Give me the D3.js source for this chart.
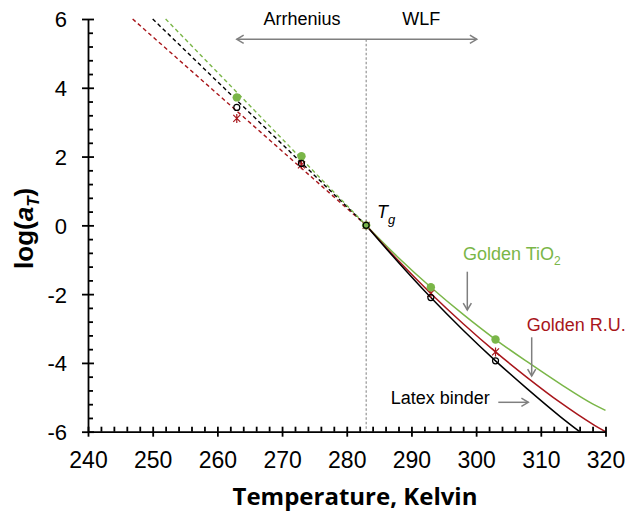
<!DOCTYPE html>
<html>
<head>
<meta charset="utf-8">
<script src="https://cdn.jsdelivr.net/npm/d3@7"></script>
<style>
  html, body { margin: 0; padding: 0; background: #fff; }
  svg { display: block; }
  text { font-family: "Liberation Sans", Arial, sans-serif; }
</style>
</head>
<body>
<svg id="chart" width="628" height="512"></svg>
<script>
// Shift factor log(aT) vs temperature, reference temperature Tg = 283 K
const tg = 283;

// Measured shift factors
const measuredT = [263, 273, 283, 293, 303];
const binderMeasured = [3.43, 1.80, 0, -2.10, -3.94];
const ruMeasured = [3.11, 1.76, 0, -1.98, -3.68];
const tio2Measured = [3.72, 2.01, 0, -1.80, -3.32];

// WLF fits above Tg
const binderWlfT = [283, 288, 293, 298, 303, 308, 313, 316];
const binderWlf = [0, -1.08, -2.10, -3.05, -3.94, -4.77, -5.56, -6.0];
const ruWlfT = [283, 288, 293, 298, 303, 308, 313, 318, 320];
const ruWlf = [0, -1.03, -1.98, -2.86, -3.68, -4.44, -5.15, -5.78, -6.0];
const tio2WlfT = [283, 288, 293, 298, 303, 308, 313, 318, 320];
const tio2Wlf = [0, -0.94, -1.80, -2.59, -3.32, -3.98, -4.61, -5.19, -5.38];

// Arrhenius fits below Tg (straight lines from Tg to the top of the plot)
const binderArrT = [250.0, 283];
const binderArr = [6, 0];
const ruArrT = [246.9, 283];
const ruArr = [6, 0];
const tio2ArrT = [252.0, 283];
const tio2Arr = [6, 0];

// Axis ticks
const xMajor = [240, 250, 260, 270, 280, 290, 300, 310, 320];
const xMinor = d3.range(242, 320, 2).filter(v => v % 10 !== 0);
const yMajor = [-6, -4, -2, 0, 2, 4, 6];
const yMinor = d3.range(-5.6, 6, 0.4).map(v => +v.toFixed(1)).filter(v => Math.abs(v % 2) > 1e-6);

const green = "#7ab648";
const red = "#a8161b";
const black = "#000000";
const grey = "#7f7f7f";

const svg = d3.select("#chart");
const x = d3.scaleLinear().domain([240, 320]).range([88, 605.5]);
const y = d3.scaleLinear().domain([-6, 6]).range([431.7, 19]);

const zip = (ts, vs) => ts.map((t, i) => [t, vs[i]]);
const line = d3.line().x(d => x(d[0])).y(d => y(d[1]));
const smooth = d3.line().x(d => x(d[0])).y(d => y(d[1])).curve(d3.curveMonotoneX);

// Vertical dashed line at Tg
svg.append("line")
  .attr("x1", x(tg)).attr("x2", x(tg))
  .attr("y1", y(5.41)).attr("y2", y(-6))
  .attr("stroke", grey).attr("stroke-width", 1)
  .attr("stroke-dasharray", "2.5,2");

// Arrhenius (dashed) lines
[[ruArrT, ruArr, red], [binderArrT, binderArr, black], [tio2ArrT, tio2Arr, green]].forEach(([ts, vs, c]) => {
  svg.append("path")
    .attr("d", line(zip(ts, vs)))
    .attr("fill", "none").attr("stroke", c).attr("stroke-width", 1.4)
    .attr("stroke-dasharray", "4,3");
});

// WLF (solid) curves
[[tio2WlfT, tio2Wlf, green], [ruWlfT, ruWlf, red], [binderWlfT, binderWlf, black]].forEach(([ts, vs, c]) => {
  svg.append("path")
    .attr("d", smooth(zip(ts, vs)))
    .attr("fill", "none").attr("stroke", c).attr("stroke-width", 1.5);
});

// Axes (hyphen-minus labels)
const fmt = d => String(d);
const gx = svg.append("g").attr("transform", `translate(0,${y(-6)})`);
gx.call(d3.axisBottom(x).tickValues(xMinor).tickSize(-5).tickFormat(""))
  .call(g => g.select(".domain").remove());
const gxMajor = svg.append("g").attr("transform", `translate(0,${y(-6)})`)
  .call(d3.axisBottom(x).tickValues(xMajor).tickSize(5).tickSizeOuter(0).tickFormat(fmt));
gxMajor.selectAll(".tick line").attr("y1", -5).attr("y2", 5);
gxMajor.selectAll(".tick text").attr("y", 20).attr("dy", "0.72em")
  .style("font-size", "23px").style("font-family", "'Liberation Sans', Arial, sans-serif").attr("fill", "#000");

const gy = svg.append("g").attr("transform", `translate(${x(240)},0)`);
gy.call(d3.axisLeft(y).tickValues(yMinor).tickSize(-5).tickFormat(""))
  .call(g => g.select(".domain").remove());
const gyMajor = svg.append("g").attr("transform", `translate(${x(240)},0)`)
  .call(d3.axisLeft(y).tickValues(yMajor).tickSize(6).tickSizeOuter(0).tickFormat(fmt));
gyMajor.selectAll(".tick line").attr("x1", 6).attr("x2", -6);
gyMajor.selectAll(".tick text").attr("x", -21).attr("dy", "0.36em")
  .style("font-size", "22px").style("font-family", "'Liberation Sans', Arial, sans-serif").attr("fill", "#000");

svg.selectAll(".domain, .tick line").attr("stroke", "#000").attr("stroke-width", 1.8);

// Measured points
const pts = (ts, vs) => zip(ts, vs);
svg.append("g").selectAll("path").data(pts(measuredT, ruMeasured)).join("path")
  .attr("transform", d => `translate(${x(d[0])},${y(d[1])})`)
  .attr("d", "M-3.5,-3.5L3.5,3.5M-3.5,3.5L3.5,-3.5M0,-4.5L0,4.5")
  .attr("stroke", red).attr("stroke-width", 1.2).attr("fill", "none");
svg.append("g").selectAll("circle").data(pts(measuredT, tio2Measured)).join("circle")
  .attr("cx", d => x(d[0])).attr("cy", d => y(d[1])).attr("r", 4.2)
  .attr("fill", green);
svg.append("g").selectAll("circle").data(pts(measuredT, binderMeasured)).join("circle")
  .attr("cx", d => x(d[0])).attr("cy", d => y(d[1])).attr("r", 3)
  .attr("fill", "none").attr("stroke", black).attr("stroke-width", 1.2);

// Arrow helper (open chevron head)
function arrow(x1, y1, x2, y2, both) {
  const g = svg.append("g").attr("stroke", grey).attr("stroke-width", 1.5).attr("fill", "none");
  g.append("line").attr("x1", x1).attr("y1", y1).attr("x2", x2).attr("y2", y2);
  const head = (px, py, ang) => {
    const a1 = ang + Math.PI * 0.83, a2 = ang - Math.PI * 0.83, L = 8;
    g.append("path").attr("d",
      `M${px + L * Math.cos(a1)},${py + L * Math.sin(a1)}L${px},${py}L${px + L * Math.cos(a2)},${py + L * Math.sin(a2)}`);
  };
  const ang = Math.atan2(y2 - y1, x2 - x1);
  head(x2, y2, ang);
  if (both) head(x1, y1, ang + Math.PI);
}

// Arrhenius / WLF regime arrow
arrow(x(263), y(5.41), x(300.1), y(5.41), true);
svg.append("text").attr("x", x(273.1)).attr("y", 25).attr("text-anchor", "middle")
  .style("font-size", "18px").text("Arrhenius");
svg.append("text").attr("x", x(291.5)).attr("y", 25).attr("text-anchor", "middle")
  .style("font-size", "18px").text("WLF");

// Tg label
const tgLabel = svg.append("text").attr("x", 377).attr("y", 218)
  .style("font-size", "18px").style("font-style", "italic");
tgLabel.append("tspan").text("T");
tgLabel.append("tspan").attr("dy", 6).style("font-size", "13px").text("g");

// Series labels and pointer arrows
const tio2Label = svg.append("text").attr("x", 463).attr("y", 260)
  .style("font-size", "18px").attr("fill", green);
tio2Label.append("tspan").text("Golden TiO");
tio2Label.append("tspan").attr("dy", 5).style("font-size", "12px").text("2");
arrow(467.3, 271.7, 467.3, 310);

svg.append("text").attr("x", 526.7).attr("y", 330.7)
  .style("font-size", "18px").attr("fill", red).text("Golden R.U.");
arrow(531.7, 337.3, 531.7, 376);

svg.append("text").attr("x", 390.7).attr("y", 404)
  .style("font-size", "18px").attr("fill", "#000").text("Latex binder");
arrow(498.3, 402.3, 528.3, 402.3);

// Axis titles
svg.append("text").attr("x", 355).attr("y", 505).attr("text-anchor", "middle")
  .style("font-family", "'Open Sans', Lato, sans-serif").style("font-weight", "bold")
  .style("font-size", "24px").text("Temperature, Kelvin");

const yTitle = svg.append("text")
  .attr("transform", `translate(33,${y(0) + 3}) rotate(-90)`)
  .attr("text-anchor", "middle")
  .style("font-weight", "bold").style("font-size", "26px");
yTitle.append("tspan").text("log(");
yTitle.append("tspan").style("font-style", "italic").text("a");
yTitle.append("tspan").attr("dy", 6).style("font-style", "italic").style("font-size", "17px").text("T");
yTitle.append("tspan").attr("dy", -6).text(")");
</script>
</body>
</html>
